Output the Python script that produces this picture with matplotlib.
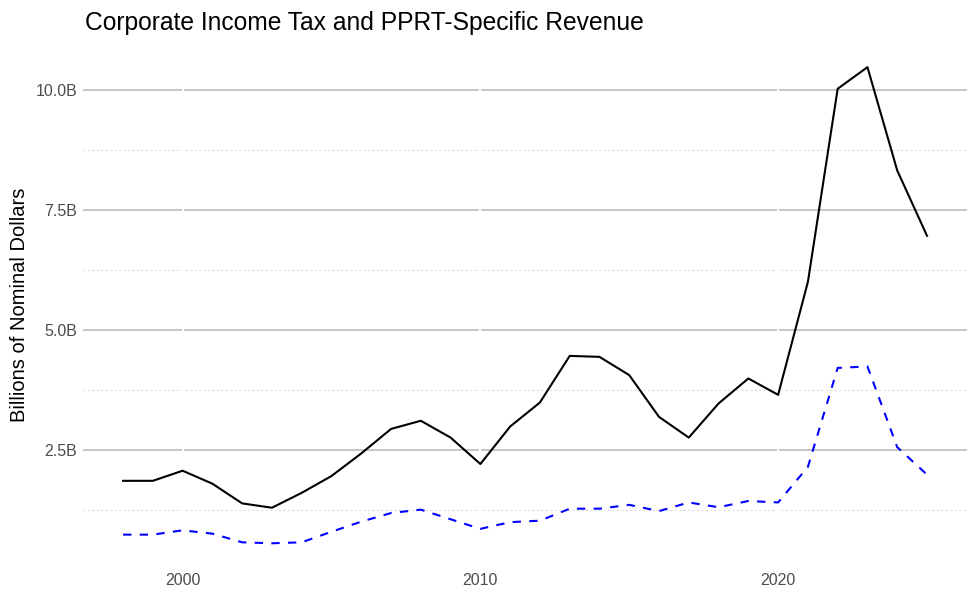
import matplotlib
matplotlib.use("Agg")
import matplotlib.pyplot as plt

plt.rcParams['font.family'] = ['Liberation Sans', 'DejaVu Sans']

years = list(range(1998, 2026))
corporate = [1.86, 1.86, 2.07, 1.80, 1.39, 1.30, 1.61, 1.96, 2.43, 2.94, 3.11, 2.76, 2.21,
             2.99, 3.49, 4.46, 4.44, 4.06, 3.19, 2.76, 3.47, 3.99, 3.65, 6.00, 10.02, 10.47,
             8.32, 6.96]
pprt = [0.74, 0.74, 0.83, 0.76, 0.58, 0.56, 0.58, 0.80, 1.01, 1.19, 1.26, 1.06, 0.86,
        1.00, 1.03, 1.28, 1.28, 1.36, 1.23, 1.41, 1.31, 1.44, 1.41, 2.15, 4.21, 4.24,
        2.56, 1.99]
y_ticks = [2.5, 5.0, 7.5, 10.0]
y_tick_labels = ["2.5B", "5.0B", "7.5B", "10.0B"]
y_minor = [1.25, 3.75, 6.25, 8.75]
x_ticks = [2000, 2010, 2020]

fig = plt.figure(figsize=(9.75, 6.02), dpi=100)
ax = fig.add_axes([0.085, 0.058, 0.907, 0.87])

ax.plot(years, corporate, color='black', lw=1.5, zorder=3)
ax.plot(years, pprt, color='blue', lw=1.5, ls=(0, (4, 4)), zorder=3)

ymin, ymax = min(pprt), max(corporate)
pad = (ymax - ymin) * 0.05
ax.set_ylim(ymin - pad, ymax + pad)
xpad = (years[-1] - years[0]) * 0.05
ax.set_xlim(years[0] - xpad, years[-1] + xpad)

for v in y_ticks:
    ax.axhline(v, color='#BEBEBE', lw=1.2, zorder=1)
for v in y_minor:
    ax.axhline(v, color='#DDDDDD', lw=0.8, ls=(0, (2, 2)), zorder=1)
for v in x_ticks:
    ax.axvline(v, color='white', lw=1.5, zorder=2)

ax.set_yticks(y_ticks)
ax.set_yticklabels(y_tick_labels)
ax.set_xticks(x_ticks)
ax.set_xticklabels([str(x) for x in x_ticks])
ax.tick_params(axis='both', length=0, labelsize=11.5, colors='#4D4D4D', pad=4)
for s in ax.spines.values():
    s.set_visible(False)

ax.set_ylabel("Billions of Nominal Dollars", fontsize=14.5, color='black', labelpad=5)
fig.text(0.087, 0.962, "Corporate Income Tax and PPRT-Specific Revenue", fontsize=17.7,
         ha='left', va='center', color='black')

fig.savefig("out.png", dpi=100, facecolor='white')
